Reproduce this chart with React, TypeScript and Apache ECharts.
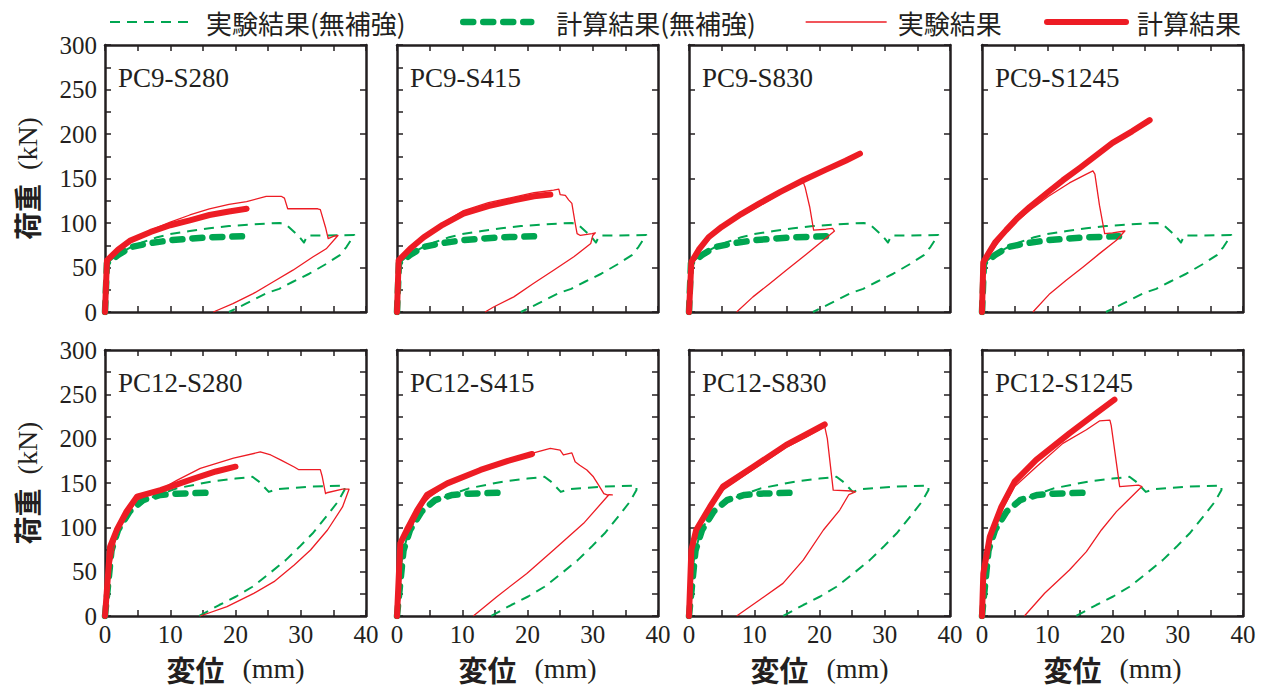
import React, { useEffect, useRef } from 'react';
import * as echarts from 'echarts';

type Pt = [number, number];

const panelTitles = ['PC9-S280', 'PC9-S415', 'PC9-S830', 'PC9-S1245', 'PC12-S280', 'PC12-S415', 'PC12-S830', 'PC12-S1245'];
const legendNames = ['実験結果(無補強)', '計算結果(無補強)', '実験結果', '計算結果'];
const xAxisName = '変位';
const xAxisUnit = '(mm)';
const yAxisName = '荷重';
const yAxisUnit = '(kN)';

// unreinforced specimens (green), shared by each row
const pc9GreenExp: Pt[] = [[0,0],[0.2,30],[0.4,55],[0.8,58],[1.5,62],[2.5,67],[4,73],[6,79],[8,84],[10,87.5],[13,91],[16,94],[19,96.5],[22,98],[25,99.5],[26.8,100],[27.8,98],[29,90],[29.6,86],[30.5,78],[31,86],[34,86],[38.2,86.5],[37,73],[36,64],[33.9,54],[31.3,43],[28.8,34],[26.7,26],[24.7,21],[21.6,9.4],[19,0]];
const pc9GreenCalc: Pt[] = [[0,0],[0.3,55],[0.8,57],[2,64],[4,73],[7,77.5],[10,80.6],[13,82.5],[16,84],[21,85]];
const pc12GreenExp: Pt[] = [[0,0],[0.25,18],[0.5,45],[0.8,67],[1.8,97],[3.8,118],[6.9,133],[11,144],[16.2,151.5],[20,155],[22.6,157],[23.6,151.5],[25.1,140],[26.4,143],[31.5,146],[36.7,147],[36.7,142],[35.7,129],[33.9,112],[31.8,93],[29.8,78],[27.7,63],[25.2,48],[22.6,33],[20.1,22],[17.5,12.4],[14.4,0]];
const pc12GreenCalc: Pt[] = [[0,0],[0.5,37],[1,74],[2,97],[3.8,118],[5.9,131],[8.5,136.5],[11,138],[15.6,139]];

// reinforced specimens (red)
const pc9s280Exp: Pt[] = [[0,0],[0.3,30],[0.5,57],[2,70],[3.8,80],[7,92],[10,101],[13,109],[16,116],[19,121],[21.7,124],[24.7,130],[27,130],[27.5,128],[28,116],[30,116],[32.6,116],[33,115],[33.8,95],[34.2,82.5],[35,85],[35.7,86],[33.9,71],[31.9,62],[28.8,47],[25.8,34],[22.7,20.6],[19.6,9.4],[16.6,0]];
const pc9s280Calc: Pt[] = [[0,0],[0.3,58],[2,70],[3.8,80],[7,90],[10,97.5],[13,103],[16,109],[19,113],[21.7,116]];
const pc9s415Exp: Pt[] = [[0,0],[0.25,30],[0.3,56],[2,72],[4.1,86],[7,100],[10.2,114],[14,123],[17.9,129],[21,134],[24,137],[24.8,138],[25,132],[25.8,131],[26.3,126],[26.8,122],[27.3,100],[27.6,88],[28.1,86],[29.9,88],[30.4,89],[30,86],[29.7,77],[27.1,62],[24,47],[20.9,32],[17.9,17],[14.8,5.6],[13.5,0]];
const pc9s415Calc: Pt[] = [[0,0],[0.25,58],[2,71],[4.1,84],[7,98],[10.2,110.6],[14,119],[17.9,125.6],[21,130],[23.5,132]];
const pc9s830Exp: Pt[] = [[0,0],[0.3,40],[0.5,57],[2,72],[3.5,85],[5,94],[8,108],[11,120],[14,133],[17.5,146],[17.8,140],[18.5,118],[19.1,92],[21,93],[22,94],[22.3,91],[20.6,80.6],[17.5,62],[14.9,47],[12.4,32],[9.8,17],[7.3,0]];
const pc9s830Calc: Pt[] = [[0,0],[0.36,56],[1.5,70],[3,84],[5,95.6],[8,110],[10.8,122],[14,135],[17.5,148],[21,160],[24,170],[26.2,178]];
const pc9s1245Exp: Pt[] = [[0,0],[0.3,45],[0.5,57],[1.5,68],[3.5,88],[5,100],[7.3,114],[10.2,130],[13.4,145],[16,155],[17,158.6],[17.3,155],[18,120],[18.8,88],[20,89],[21.9,91],[20.6,80.6],[18,65.6],[15.5,50.6],[12.9,35.6],[10.4,20.6],[7.8,0]];
const pc9s1245Calc: Pt[] = [[0,0],[0.2,56],[1,66],[2,78],[3.7,92],[5.5,106],[7.3,118],[10,134],[12.4,148],[15,162],[17.5,176],[20,190],[23,203],[25.7,215.6]];
const pc12s280Exp: Pt[] = [[0,0],[0.25,22],[0.8,52],[1.5,82],[2.05,97],[3.3,112],[4.9,131],[7.9,140],[11,153],[14.6,166.5],[19.7,178],[23.8,185],[25.4,181.6],[26.9,176],[29,168],[29.7,165],[33,165],[33.3,157],[33.8,138],[34,139],[36.4,143],[37.4,143],[36.4,123],[34.1,97],[31.5,74.4],[29,57.5],[25.9,38.7],[22.8,25.5],[18.7,10.5],[14.6,0]];
const pc12s280Calc: Pt[] = [[0,0],[0.4,40],[0.77,78],[1.8,97],[3.3,118],[4.9,134.6],[8.5,142],[13.6,155],[17,163],[20,168.4]];
const pc12s415Exp: Pt[] = [[0,0],[0.5,22],[0.77,82],[2,97],[4.1,127],[5.1,134.6],[7.5,147],[10.2,157],[15.3,172],[21.5,185],[23.5,189],[25,187],[25.5,181.6],[26.8,184],[27.3,174],[28,170],[29.1,164.6],[30.1,157],[30.9,147.7],[31.7,138],[32.2,136.5],[33,136.5],[32.5,137],[28.6,104.5],[24,74.4],[19.9,48],[15.3,21.8],[11.7,0]];
const pc12s415Calc: Pt[] = [[0,0],[0.5,82],[1.5,97],[3.1,119.5],[4.6,136.5],[7.7,149.6],[12.8,164.7],[17,175],[20.7,182.7]];
const pc12s830Exp: Pt[] = [[0,0],[0.3,50],[0.5,74],[1.2,95],[3.2,120],[5.2,142],[9.8,165],[14.9,190],[18,202],[20.8,213.5],[21.2,200],[22.1,142],[24.9,141],[25.5,140],[24.5,137],[23.1,119.5],[20.6,97],[17.5,63],[14.4,36.8],[10.8,18],[7.3,0]];
const pc12s830Calc: Pt[] = [[0,0],[0.36,74.4],[1.1,97],[3.2,123],[5.2,146],[9.8,168],[14.9,193],[18,205],[20.8,216]];
const pc12s1245Exp: Pt[] = [[0,0],[0.3,45],[1,85],[2.96,118],[5,146],[8.3,168],[12.4,194.7],[16,210],[18,220],[19.6,221],[19.8,215],[21.1,146],[24,147.7],[24.5,146],[20.6,117.7],[18.3,97],[16,72.6],[13.4,51.9],[9.6,25.6],[6.5,0]];
const pc12s1245Calc: Pt[] = [[0,0],[0.2,48],[1.2,89.5],[2.96,123],[5,151.5],[8.3,176],[13.4,206],[17,226],[20.3,244]];

const redExpByPanel = [pc9s280Exp, pc9s415Exp, pc9s830Exp, pc9s1245Exp, pc12s280Exp, pc12s415Exp, pc12s830Exp, pc12s1245Exp];
const redCalcByPanel = [pc9s280Calc, pc9s415Calc, pc9s830Calc, pc9s1245Calc, pc12s280Calc, pc12s415Calc, pc12s830Calc, pc12s1245Calc];
const greenExpByRow = [pc9GreenExp, pc12GreenExp];
const greenCalcByRow = [pc9GreenCalc, pc12GreenCalc];

const X_MIN = 0, X_MAX = 40, X_STEP = 10;
const Y_MIN = 0, Y_MAX = 300, Y_STEP = 50;

// layout / style
const INK = '#231f20';
const RED = '#ed1c24';
const GREEN = '#00a651';
const SERIF = '"Liberation Serif", "Times New Roman", serif';
const CJK = '"Noto Sans CJK JP", "Noto Sans", sans-serif';
const COL_LEFT = [105, 397, 689, 982];
const GRID_W = 261;
const ROW_TOP = [45, 350];
const ROW_H = [267, 266];
const yMinorLeft = [true, true, false, false, true, true, true, true];
const yMinorRight = [false, false, false, false, true, true, true, true];

const styles = [
  { type: [10, 7], width: 2, cap: 'butt' },
  { type: [10, 10], width: 6.5, cap: 'round' },
  { type: 'solid', width: 1.3, cap: 'butt' },
  { type: 'solid', width: 6, cap: 'round' },
];
const colors = [GREEN, GREEN, RED, RED];

function buildOption() {
  const grid: any[] = [];
  const xAxis: any[] = [];
  const yAxis: any[] = [];
  const series: any[] = [];
  const title: any[] = [];

  const axisLine = { show: true, onZero: false, lineStyle: { color: INK, width: 2.5 } };
  const axisTick = { show: true, inside: true, length: 6, lineStyle: { color: INK, width: 1.5 } };
  const minor = (show: boolean) => ({ show, splitNumber: 2, length: 6, lineStyle: { color: INK, width: 1.5 } });
  const label = { fontFamily: SERIF, fontSize: 25, color: INK };

  for (let i = 0; i < 8; i++) {
    const row = Math.floor(i / 4);
    const col = i % 4;
    grid.push({ left: COL_LEFT[col], top: ROW_TOP[row], width: GRID_W, height: ROW_H[row] });
    const xBase = {
      type: 'value', gridIndex: i, min: X_MIN, max: X_MAX, interval: X_STEP,
      axisLine, axisTick, minorTick: minor(true),
      splitLine: { show: false }, minorSplitLine: { show: false },
    };
    xAxis.push({
      ...xBase, position: 'bottom',
      axisLabel: { show: row === 1, margin: 6, ...label },
      name: row === 1 ? `{a|${xAxisName}}{b|${xAxisUnit}}` : '',
      nameLocation: 'middle', nameGap: 38,
      nameTextStyle: {
        rich: {
          a: { fontFamily: CJK, fontSize: 29, fontWeight: 'bold', color: INK },
          b: { fontFamily: SERIF, fontSize: 28, color: INK, padding: [0, 0, 0, 18] },
        },
      },
    });
    xAxis.push({ ...xBase, position: 'top', axisLabel: { show: false } });
    const yBase = {
      type: 'value', gridIndex: i, min: Y_MIN, max: Y_MAX, interval: Y_STEP,
      axisLine, axisTick,
      splitLine: { show: false }, minorSplitLine: { show: false },
    };
    yAxis.push({
      ...yBase, position: 'left', minorTick: minor(yMinorLeft[i]),
      axisLabel: { show: col === 0, margin: 8, ...label },
      name: col === 0 ? `{a|${yAxisName}}{b|${yAxisUnit}}` : '',
      nameLocation: 'middle', nameRotate: 90, nameGap: 64,
      nameTextStyle: {
        rich: {
          a: { fontFamily: CJK, fontSize: 28, fontWeight: 'bold', color: INK },
          b: { fontFamily: SERIF, fontSize: 28, color: INK, padding: [0, 0, 0, 14] },
        },
      },
    });
    yAxis.push({ ...yBase, position: 'right', minorTick: minor(yMinorRight[i]), axisLabel: { show: false } });

    title.push({
      text: panelTitles[i], left: COL_LEFT[col] + 13, top: ROW_TOP[row] + 19, padding: 0,
      textStyle: { fontFamily: SERIF, fontSize: 27, fontWeight: 'normal', color: INK },
    });

    const dataSets = [greenExpByRow[row], greenCalcByRow[row], redExpByPanel[i], redCalcByPanel[i]];
    const order = [2, 3, 0, 1];
    for (const k of order) {
      series.push({
        name: legendNames[k], type: 'line', xAxisIndex: 2 * i, yAxisIndex: 2 * i,
        data: dataSets[k], symbol: 'none', showSymbol: false, smooth: false,
        itemStyle: { color: colors[k] },
        lineStyle: { color: colors[k], width: styles[k].width, type: styles[k].type, cap: styles[k].cap, join: 'round' },
        z: 2 + k,
      });
    }
  }

  const legendPos = [
    { left: 109, itemWidth: 84, pad: 7 },
    { left: 460, itemWidth: 68, pad: 20 },
    { left: 805, itemWidth: 81, pad: 6 },
    { left: 1044, itemWidth: 79, pad: 6 },
  ];
  const legend = legendNames.map((n, k) => ({
    data: [n], left: legendPos[k].left, top: 9, padding: 0,
    itemWidth: legendPos[k].itemWidth, itemHeight: 14,
    itemStyle: { opacity: 0, borderWidth: 0 },
    lineStyle: { width: styles[k].width },
    selectedMode: false,
    textStyle: { fontFamily: CJK, fontSize: 26, color: INK, padding: [0, 0, 0, legendPos[k].pad] },
  }));

  return {
    animation: false,
    backgroundColor: '#ffffff',
    title, legend, grid, xAxis, yAxis, series,
  };
}

export default function App() {
  const ref = useRef<HTMLDivElement>(null);
  useEffect(() => {
    const chart = echarts.init(ref.current!, null, { renderer: 'svg' });
    chart.setOption(buildOption() as any);
    return () => chart.dispose();
  }, []);
  return (
    <div
      ref={ref}
      style={{ position: 'absolute', left: 0, top: 0, width: 1262, height: 691, background: '#fff' }}
    />
  );
}
